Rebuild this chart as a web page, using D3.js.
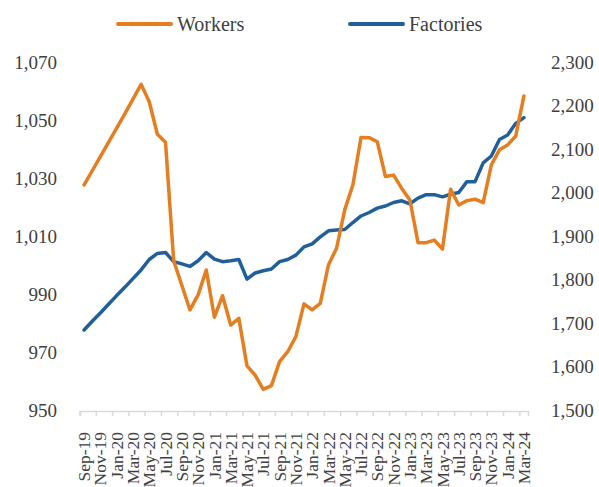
<!DOCTYPE html>
<html>
<head>
<meta charset="utf-8">
<script src="https://cdn.jsdelivr.net/npm/d3@7"></script>
<style>
  body { margin: 0; background: #fff; }
  svg text { font-family: "Liberation Serif", "DejaVu Serif", serif; fill: #404040; }
</style>
</head>
<body>
<div id="chart"></div>
<script>
// month labels, Sep-19 .. Mar-24
var months = [
  "Sep-19", "Oct-19", "Nov-19", "Dec-19",
  "Jan-20", "Feb-20", "Mar-20", "Apr-20", "May-20", "Jun-20", "Jul-20", "Aug-20", "Sep-20", "Oct-20", "Nov-20", "Dec-20",
  "Jan-21", "Feb-21", "Mar-21", "Apr-21", "May-21", "Jun-21", "Jul-21", "Aug-21", "Sep-21", "Oct-21", "Nov-21", "Dec-21",
  "Jan-22", "Feb-22", "Mar-22", "Apr-22", "May-22", "Jun-22", "Jul-22", "Aug-22", "Sep-22", "Oct-22", "Nov-22", "Dec-22",
  "Jan-23", "Feb-23", "Mar-23", "Apr-23", "May-23", "Jun-23", "Jul-23", "Aug-23", "Sep-23", "Oct-23", "Nov-23", "Dec-23",
  "Jan-24", "Feb-24", "Mar-24"
];

// left axis
var workers = [
  1027.6, 1032.5, 1037.4, 1042.3,
  1047.2, 1052.1, 1057.2, 1062.3, 1056.3, 1045.1, 1042.3, 1001.5, 993.0, 984.5, 989.7, 998.3,
  982.0, 989.4, 979.3, 981.6, 965.2, 962.0, 957.1, 958.4, 966.7, 970.1, 975.3, 986.6,
  984.5, 986.8, 1000.0, 1005.8, 1019.0, 1027.6, 1044.0, 1043.9, 1042.5, 1030.5, 1031.0, 1026.4,
  1022.4, 1007.7, 1007.7, 1008.6, 1005.5, 1026.1, 1020.7, 1022.2, 1022.7, 1021.5, 1034.5, 1039.7,
  1041.4, 1044.5, 1058.3
];

// right axis
var factories = [
  1684, 1704, 1723, 1743,
  1763, 1782, 1802, 1822, 1846, 1860, 1862, 1841, 1836, 1830, 1843, 1862,
  1847, 1841, 1843, 1846, 1801, 1815, 1820, 1824, 1841, 1846, 1856, 1875,
  1882, 1898, 1912, 1914, 1915, 1931, 1946, 1954, 1964, 1969, 1977, 1981,
  1974, 1987, 1995, 1995, 1990, 1996, 2000, 2025, 2025, 2068, 2084, 2122,
  2132, 2159, 2172
];

var leftTicks = [950, 970, 990, 1010, 1030, 1050, 1070];
var rightTicks = [1500, 1600, 1700, 1800, 1900, 2000, 2100, 2200, 2300];

var width = 599, height = 487;
var orange = "#e57d21";
var blue = "#215f9a";

var svg = d3.select("#chart").append("svg")
    .attr("width", width)
    .attr("height", height);

var x = d3.scaleBand()
    .domain(months)
    .range([80, 528])
    .padding(0);

var yLeft = d3.scaleLinear().domain([950, 1070]).range([410, 62]);
var yRight = d3.scaleLinear().domain([1500, 2300]).range([410, 62]);

var fmt = d3.format(",");

// left tick labels
svg.append("g").selectAll("text")
    .data(leftTicks)
    .enter().append("text")
    .attr("x", 57)
    .attr("y", d => yLeft(d))
    .attr("dy", "0.35em")
    .attr("text-anchor", "end")
    .style("font-size", "19px")
    .text(d => fmt(d));

// right tick labels
svg.append("g").selectAll("text")
    .data(rightTicks)
    .enter().append("text")
    .attr("x", 551)
    .attr("y", d => yRight(d))
    .attr("dy", "0.35em")
    .attr("text-anchor", "start")
    .style("font-size", "19px")
    .text(d => fmt(d));

// x axis, every other month
var xAxis = svg.append("g")
    .attr("transform", "translate(0,411)")
    .call(d3.axisBottom(x)
        .tickValues(months.filter((d, i) => i % 2 == 0))
        .tickSizeOuter(0)
        .tickSize(5));

xAxis.select(".domain").attr("stroke", "#d9d9d9").attr("stroke-width", 1.5);
xAxis.selectAll(".tick line")
    .attr("stroke", "#d9d9d9")
    .attr("stroke-width", 1.5)
    .attr("x1", -x.bandwidth() / 2)
    .attr("x2", -x.bandwidth() / 2);
xAxis.selectAll(".tick text")
    .attr("transform", "rotate(-90)")
    .attr("x", -21)
    .attr("y", 0)
    .attr("dy", "0.35em")
    .style("text-anchor", "end")
    .style("font-size", "17.5px")
    .style("font-family", "Liberation Serif, serif")
    .attr("fill", "#404040");

var cx = d => x(d) + x.bandwidth() / 2;

var lineLeft = d3.line()
    .x((d, i) => cx(months[i]))
    .y(d => yLeft(d));

var lineRight = d3.line()
    .x((d, i) => cx(months[i]))
    .y(d => yRight(d));

svg.append("path")
    .datum(factories)
    .attr("fill", "none")
    .attr("stroke", blue)
    .attr("stroke-width", 3.5)
    .attr("stroke-linejoin", "round")
    .attr("stroke-linecap", "round")
    .attr("d", lineRight);

svg.append("path")
    .datum(workers)
    .attr("fill", "none")
    .attr("stroke", orange)
    .attr("stroke-width", 3.5)
    .attr("stroke-linejoin", "round")
    .attr("stroke-linecap", "round")
    .attr("d", lineLeft);

// legend
var legend = [
    { name: "Workers", color: orange, x: 118 },
    { name: "Factories", color: blue, x: 350 }
];
var lg = svg.append("g").selectAll("g")
    .data(legend)
    .enter().append("g")
    .attr("transform", d => "translate(" + d.x + ",24)");
lg.append("line")
    .attr("x1", 0).attr("x2", 53)
    .attr("stroke", d => d.color)
    .attr("stroke-width", 4)
    .attr("stroke-linecap", "round");
lg.append("text")
    .attr("x", 59)
    .attr("dy", "0.35em")
    .style("font-size", "20px")
    .text(d => d.name);
</script>
</body>
</html>
